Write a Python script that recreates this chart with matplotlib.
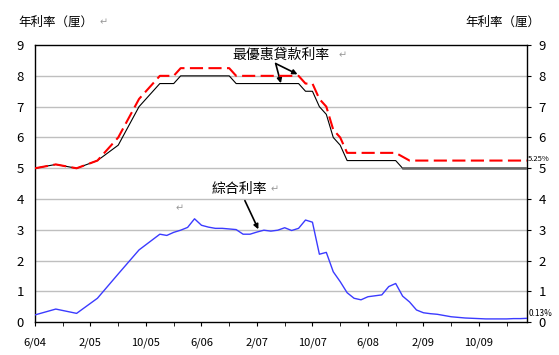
import matplotlib.pyplot as plt

plt.rcParams['font.family'] = ['Noto Sans CJK TC', 'DejaVu Sans']

# month index: 0 = 6/2004, 71 = 5/2010
prime_x = [0, 3, 6, 9, 12, 15,
           18, 19, 20, 21, 22, 23, 24, 25, 26, 27, 28, 29, 30, 31, 32, 33, 34, 35,
           36, 37, 38, 39, 40, 41, 42, 43, 44, 45, 46, 47, 48, 49, 50, 51, 52, 53,
           54, 55, 56, 57, 58, 59, 60, 61, 62, 63, 64, 65, 66, 67, 68, 69, 70, 71]

# 最優惠貸款利率 (lower, solid)
prime_low = [5.0, 5.125, 5.0, 5.25, 5.75, 7.0,
             7.75, 7.75, 7.75, 8.0, 8.0, 8.0, 8.0, 8.0, 8.0, 8.0, 8.0, 7.75, 7.75, 7.75,
             7.75, 7.75, 7.75, 7.75, 7.75, 7.75, 7.75, 7.5, 7.5, 7.0, 6.75, 6.0, 5.75,
             5.25, 5.25, 5.25, 5.25, 5.25, 5.25, 5.25, 5.25, 5.0, 5.0, 5.0, 5.0, 5.0,
             5.0, 5.0, 5.0, 5.0, 5.0, 5.0, 5.0, 5.0, 5.0, 5.0, 5.0, 5.0, 5.0, 5.0]

# 最優惠貸款利率 (upper, dashed)
prime_high = [5.0, 5.125, 5.0, 5.25, 6.0, 7.25,
              8.0, 8.0, 8.0, 8.25, 8.25, 8.25, 8.25, 8.25, 8.25, 8.25, 8.25, 8.0, 8.0, 8.0,
              8.0, 8.0, 8.0, 8.0, 8.0, 8.0, 8.0, 7.75, 7.75, 7.25, 7.0, 6.25, 6.0,
              5.5, 5.5, 5.5, 5.5, 5.5, 5.5, 5.5, 5.5, 5.375, 5.25, 5.25, 5.25, 5.25,
              5.25, 5.25, 5.25, 5.25, 5.25, 5.25, 5.25, 5.25, 5.25, 5.25, 5.25, 5.25, 5.25, 5.25]

# 綜合利率
comp_x = [0, 3, 6, 9, 12, 15,
          18, 19, 20, 21, 22, 23, 24, 25, 26, 27, 28, 29, 30, 31, 32, 33, 34, 35,
          36, 37, 38, 39, 40, 41, 42, 43, 44, 45, 46, 47, 48, 49, 50, 51, 52, 53,
          54, 55, 56, 57, 58, 59, 60, 61, 62, 63, 64, 65, 66, 67, 68, 69, 70, 71]
comp_rate = [0.24, 0.43, 0.29, 0.78, 1.57, 2.35,
             2.86, 2.82, 2.92, 2.99, 3.08, 3.36, 3.15, 3.09, 3.05, 3.05, 3.03, 3.01,
             2.86, 2.86, 2.93, 2.99, 2.96, 2.99, 3.07, 2.98, 3.05, 3.32, 3.25, 2.21,
             2.27, 1.64, 1.32, 0.96, 0.78, 0.73, 0.83, 0.86, 0.89, 1.16, 1.26, 0.85,
             0.66, 0.40, 0.31, 0.28, 0.26, 0.22, 0.18, 0.16, 0.14, 0.13, 0.12, 0.11,
             0.11, 0.11, 0.11, 0.12, 0.12, 0.13]

tick_pos = [0, 8, 16, 24, 32, 40, 48, 56, 64]
tick_labels = ['6/04', '2/05', '10/05', '6/06', '2/07', '10/07', '6/08', '2/09', '10/09']

fig = plt.figure(figsize=(5.59, 3.55), dpi=100)
ax = fig.add_axes([0.0626, 0.0921, 0.881, 0.781])

for y in range(1, 9):
    ax.axhline(y, color='#BFBFBF', linewidth=1, zorder=1)

ax.plot(prime_x, prime_low, color='black', linewidth=0.8, zorder=3)
ax.plot(prime_x[41:], prime_low[41:], color='#666666', linewidth=1.8, zorder=3)
ax.plot(prime_x, prime_high, color='#FF0000', linewidth=1.5,
        linestyle=(0, (6.3, 2.6)), zorder=4)
ax.plot(comp_x, comp_rate, color='#3B3BFF', linewidth=1.0, zorder=3)

ax.set_xlim(0, 71)
ax.set_ylim(0, 9)
ax.set_yticks(range(10))
ax.set_xticks(tick_pos)
ax.set_xticklabels(tick_labels)
ax.set_xticks(range(4, 72, 8), minor=True)
ax.tick_params(axis='x', which='both', direction='out', length=3, pad=8, labelsize=8)
ax.tick_params(axis='y', which='major', length=3, pad=5, labelsize=9.5,
               left=False, right=True, labelright=True)

for sp in ax.spines.values():
    sp.set_color('black')
    sp.set_linewidth(1)

# titles and notes
fig.text(18 / 559, 1 - 22 / 355, '年利率（厘）', fontsize=9, va='center', ha='left')
fig.text(465 / 559, 1 - 22 / 355, '年利率（厘）', fontsize=9, va='center', ha='left')
fig.text(100 / 559, 1 - 22 / 355, '↵', fontsize=7, color='#999999', va='center')

ax.text(28.5, 8.68, '最優惠貸款利率', fontsize=10, va='center', ha='left')
ax.text(43.8, 8.68, '↵', fontsize=7, color='#999999', va='center')
ax.annotate('', xy=(37.85, 8.05), xytext=(34.7, 8.4),
            arrowprops=dict(arrowstyle='-|>', color='black', lw=1.2,
                            mutation_scale=7, shrinkA=0, shrinkB=0))
ax.annotate('', xy=(35.45, 7.76), xytext=(34.7, 8.4),
            arrowprops=dict(arrowstyle='-|>', color='black', lw=1.2,
                            mutation_scale=7, shrinkA=0, shrinkB=0))

ax.text(25.5, 4.33, '綜合利率', fontsize=10, va='center', ha='left')
ax.text(34.0, 4.33, '↵', fontsize=7, color='#999999', va='center')
ax.text(20.3, 3.7, '↵', fontsize=7, color='#999999', va='center')
ax.annotate('', xy=(32.2, 3.02), xytext=(30.26, 3.95),
            arrowprops=dict(arrowstyle='-|>', color='black', lw=1.2,
                            mutation_scale=7, shrinkA=0, shrinkB=0))

ax.text(71.1, 5.3, '5.25%', fontsize=5.5, va='center', ha='left', style='italic')
ax.text(71.1, 0.3, '0.13%', fontsize=6, va='center', ha='left')

fig.savefig('out.png', dpi=100)
